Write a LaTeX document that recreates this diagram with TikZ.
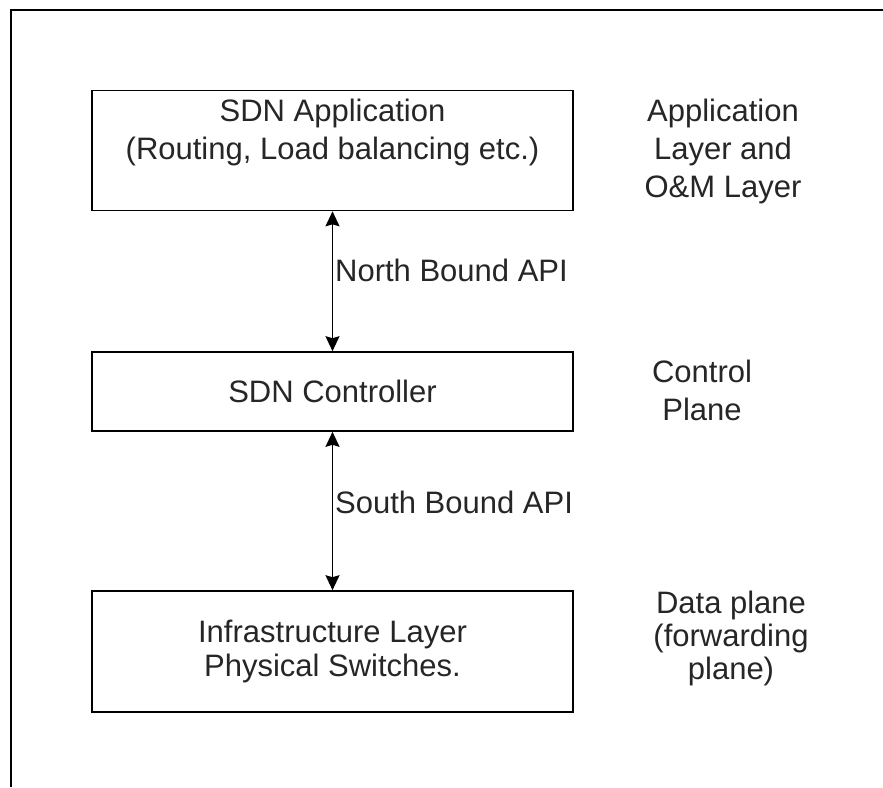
\documentclass[tikz,border=0pt]{standalone}
\usepackage{fontspec}
\setmainfont{Liberation Sans}
\usepackage{tikz}
\usetikzlibrary{arrows.meta}

\begin{document}
\begin{tikzpicture}[x=1pt, y=-1pt, line width=1.6pt,
    font=\fontsize{31}{38}\selectfont, text=black!85,
    api/.style={{Stealth[length=15pt,width=14pt,inset=2pt]}-{Stealth[length=15pt,width=14pt,inset=2pt]}}]
  \useasboundingbox (0,0) rectangle (883,787);

  % page frame
  \draw (11,787) -- (11,10) -- (883,10);

  {\tikzstyle{every node}=[rectangle, draw, minimum width=481pt, inner sep=0pt, align=center]
    \node[minimum height=120pt] (app) at (332.5,150.5) {};
    \node[minimum height=79pt] (ctrl) at (332.5,391.5) {SDN Controller};
    \node[minimum height=121pt, font=\fontsize{31}{34}\selectfont] (infra) at (332.5,651.5)
      {Infrastructure Layer\\Physical Switches.};
  }
  \node[align=center] (apptext) at (332.5,132)
    {SDN Application\\(Routing, Load balancing etc.)};

  \draw[api] (app) -- (ctrl);
  \draw[api] (ctrl) -- (infra);

  \node[anchor=west] (north) at (331,270) {North Bound API};
  \node[anchor=west] (south) at (331,502) {South Bound API};

  % layer names
  {\tikzstyle{every node}=[align=center]
    \node (applayer) at (723,151) {Application\\Layer and\\O\&M Layer};
    \node (ctrlplane) at (702,390) {Control\\Plane};
    \node[font=\fontsize{31}{33}\selectfont] (dataplane) at (731,638)
      {Data plane\\(forwarding\\plane)};
  }
\end{tikzpicture}
\end{document}
